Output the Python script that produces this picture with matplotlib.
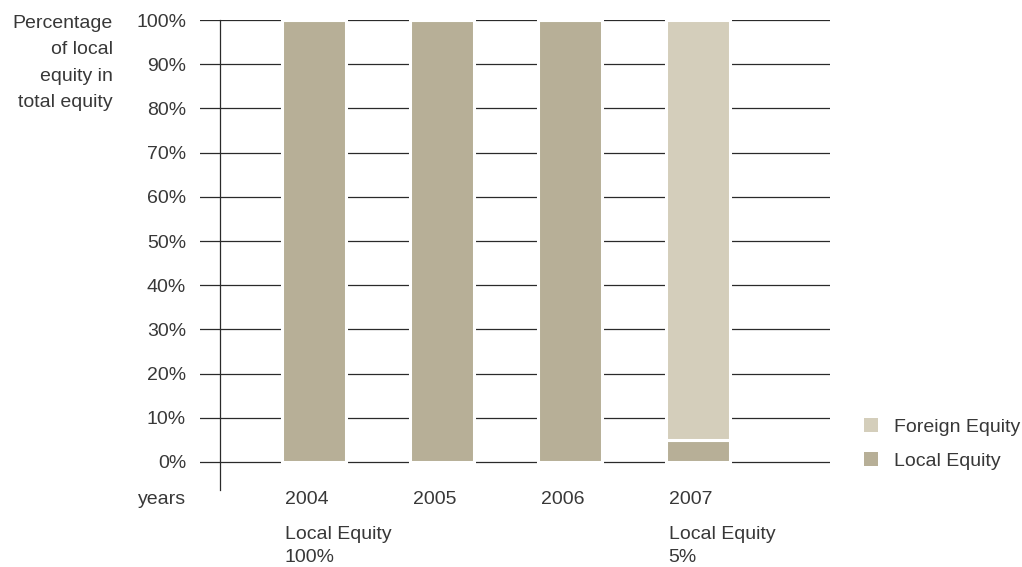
import matplotlib
matplotlib.use("Agg")
import matplotlib.pyplot as plt
import matplotlib.transforms as mtransforms
from matplotlib.patches import Patch

# data
years = ["2004", "2005", "2006", "2007"]
local_equity = [100, 100, 100, 5]
foreign_equity = [0, 0, 0, 95]
y_ticks = [0, 10, 20, 30, 40, 50, 60, 70, 80, 90, 100]
y_tick_labels = [f"{v}%" for v in y_ticks]
notes = {"2004": "Local Equity\n100%", "2007": "Local Equity\n5%"}

local_color = "#b7af97"
foreign_color = "#d4cebb"
text_color = "#383838"
line_color = "#2a2a2a"
fs = 14

plt.rcParams["font.family"] = ["Liberation Sans", "DejaVu Sans"]

W, H = 1022, 567
fig = plt.figure(figsize=(W / 100, H / 100), dpi=100)

# axes placed in pixels: gridlines 200..830, 0% at y=462, 100% at y=20, axis ends y=490
px_per_unit = (462 - 20) / 100
y_bottom = -(490 - 462) / px_per_unit
ax = fig.add_axes([200 / W, (H - 490) / H, 630 / W, (490 - 20) / H])

x = list(range(len(years)))
bar_width = 0.5
ax.set_xlim((200 - 313.5) / 128, (830 - 313.5) / 128)
ax.set_ylim(y_bottom, 100)

for v in y_ticks:
    ax.axhline(v, color=line_color, lw=0.9, zorder=1)

ax.bar(x, local_equity, width=bar_width, color=local_color,
       edgecolor="white", linewidth=2.2, zorder=2)
ax.bar(x, foreign_equity, width=bar_width, bottom=local_equity,
       color=foreign_color, edgecolor="white", linewidth=2.2, zorder=2)

# vertical axis line
axis_x = (220 - 313.5) / 128
ax.plot([axis_x, axis_x], [y_bottom, 100], color=line_color, lw=0.9,
        zorder=3, clip_on=False)

for s in ax.spines.values():
    s.set_visible(False)
ax.set_xticks([])
ax.set_yticks(y_ticks)
ax.set_yticklabels(y_tick_labels, fontsize=fs, color=text_color)
ax.tick_params(axis="y", length=0, pad=10)

# year labels and notes under the bars
blend = mtransforms.blended_transform_factory(ax.transData, fig.transFigure)
fig.text(186 / W, (H - 500) / H, "years", fontsize=fs, color=text_color,
         ha="right", va="center")
for i, yr in enumerate(years):
    left = i - bar_width / 2 + 0.025
    ax.text(left, (H - 500) / H, yr, fontsize=fs, color=text_color,
            ha="left", va="center", transform=blend, clip_on=False)
    if yr in notes:
        ax.text(left, (H - 526) / H, notes[yr], fontsize=fs,
                color=text_color, ha="left", va="top", linespacing=1.46,
                transform=blend, clip_on=False)

fig.text(113 / W, (H - 15) / H, "Percentage\nof local\nequity in\ntotal equity",
         fontsize=fs, color=text_color, ha="right", va="top",
         linespacing=1.72)

handles = [Patch(facecolor=foreign_color, label="Foreign Equity"),
           Patch(facecolor=local_color, label="Local Equity")]
fig.legend(handles=handles, loc="upper left",
           bbox_to_anchor=(864 / W, (H - 418) / H), frameon=False,
           fontsize=fs, labelcolor=text_color, handlelength=0.72,
           handleheight=0.72, handletextpad=0.82, labelspacing=0.85,
           borderpad=0, borderaxespad=0)

fig.savefig("out.png", dpi=100)
